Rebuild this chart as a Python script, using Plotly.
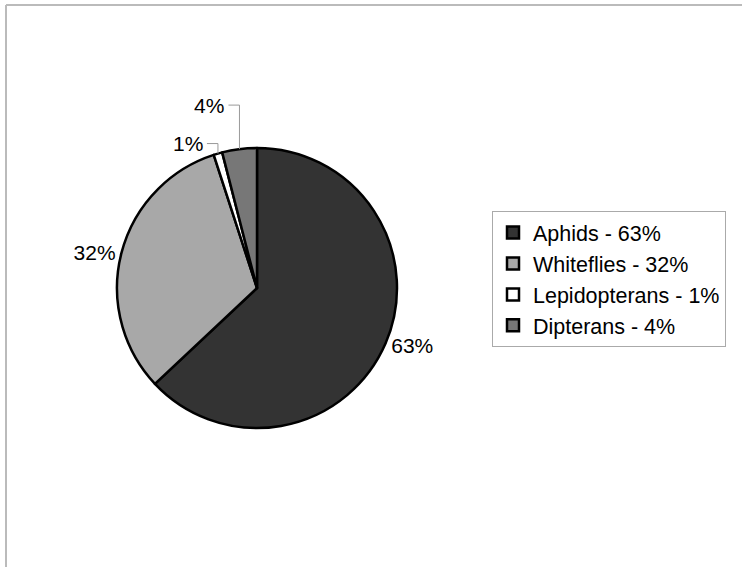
import math
import plotly.graph_objects as go

categories = ["Aphids", "Whiteflies", "Lepidopterans", "Dipterans"]
values = [63, 32, 1, 4]
colors = ["#333333", "#a8a8a8", "#ffffff", "#777777"]

W, H = 742, 567
# pie placement (pixels)
CX, CY, R = 257, 288, 140
FONT = "Liberation Sans, Arial"
legend_labels = [f"{c} - {v}%" for c, v in zip(categories, values)]

# small slices get labels with elbow leader lines (style: label lift and horizontal run in px)
small_label_style = {2: (10, 11), 3: (44, 11)}

texttemplates = ["" if i in small_label_style else "%{value}%" for i in range(len(values))]

fig = go.Figure()
fig.add_trace(go.Pie(
    labels=legend_labels,
    values=values,
    sort=False,
    direction="clockwise",
    rotation=0,
    marker=dict(colors=colors, line=dict(color="#000000", width=2.5)),
    texttemplate=texttemplates,
    textposition="outside",
    textfont=dict(family=FONT, size=21, color="#000000"),
    hoverinfo="label+percent",
    domain=dict(x=[(CX - R) / W, (CX + R) / W], y=[1 - (CY + R) / H, 1 - (CY - R) / H]),
))

def px(x):
    return x / W

def py(y):
    return 1 - y / H

shapes = [
    dict(type="line", xref="paper", yref="paper", x0=px(6), x1=1, y0=py(5), y1=py(5),
         line=dict(color="#bbbbbb", width=2)),
    dict(type="line", xref="paper", yref="paper", x0=px(6), x1=px(6), y0=0, y1=py(5),
         line=dict(color="#bbbbbb", width=2)),
]
annotations = []
total = sum(values)
cum = 0
for i, v in enumerate(values):
    if i in small_label_style:
        lift, run = small_label_style[i]
        theta = 2 * math.pi * (cum + v / 2) / total
        ex = CX + R * math.sin(theta)
        ey = CY - R * math.cos(theta)
        ly = ey - lift
        lx = ex - run
        shapes.append(dict(
            type="path", xref="paper", yref="paper",
            path=f"M {px(ex)},{py(ey)} L {px(ex)},{py(ly)} L {px(lx)},{py(ly)}",
            line=dict(color="#999999", width=1),
        ))
        annotations.append(dict(
            x=px(lx - 2), y=py(ly), xref="paper", yref="paper",
            xanchor="right", yanchor="middle", showarrow=False,
            text=f"{v}%", font=dict(family=FONT, size=21, color="#000000"),
        ))
    cum += v

fig.update_layout(
    width=W, height=H,
    margin=dict(l=0, r=0, t=0, b=0),
    paper_bgcolor="white",
    font=dict(family=FONT, size=21, color="#000000"),
    legend=dict(
        x=px(492), y=py(211), xanchor="left", yanchor="top",
        bordercolor="#aaaaaa", borderwidth=1, bgcolor="white",
        font=dict(size=21.5), tracegroupgap=0,
    ),
    shapes=shapes,
    annotations=annotations,
)

fig.write_html("out.html", config={"displayModeBar": False},
               post_script="document.body.style.margin='0px';")
